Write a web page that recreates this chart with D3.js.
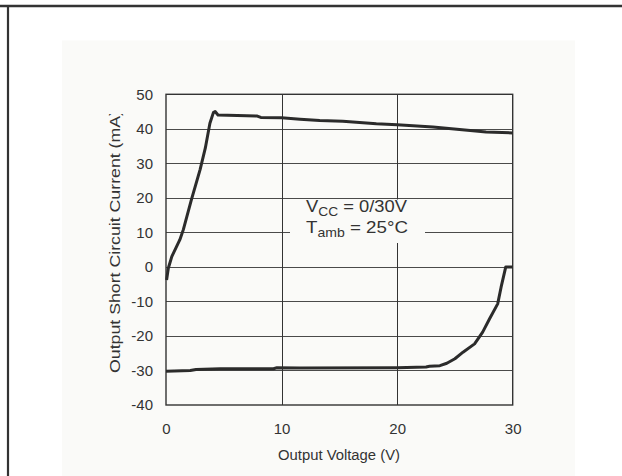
<!DOCTYPE html>
<html>
<head>
<meta charset="utf-8">
<script src="https://cdn.jsdelivr.net/npm/d3@7"></script>
<style>
  body { margin: 0; background: #fff; }
  text { font-family: "Liberation Sans", Arial, sans-serif; fill: #333; }
</style>
</head>
<body>
<div id="chart"></div>
<script>
// Chart size
const width = 622;
const height = 476;

// Data
const xTicks = [0, 10, 20, 30];
const yTicks = [-40, -30, -20, -10, 0, 10, 20, 30, 40, 50];

// sourcing curve (positive current)
const upperV = [0.05, 0.2, 0.5, 1.2, 1.5, 2.2, 2.95, 3.4, 3.8, 4.1, 4.25, 4.5, 7.0, 7.9, 8.2, 10, 11.6, 13.3, 15.3, 18.2, 20, 23.1, 25.4, 27.7, 30];
const upperI = [-3.8, -0.4, 3.0, 7.9, 10.8, 19.5, 28.2, 34.4, 41.6, 44.7, 45, 44.0, 43.8, 43.7, 43.3, 43.2, 42.8, 42.4, 42.2, 41.5, 41.2, 40.5, 39.8, 39.1, 38.8];

// sinking curve (negative current)
const lowerV = [0, 2.1, 2.6, 4.7, 9.3, 9.6, 11.6, 20, 22.5, 22.8, 23.7, 24.3, 25.0, 25.7, 26.7, 27.4, 28.0, 28.7, 29.0, 29.4, 30];
const lowerI = [-30.2, -30.0, -29.7, -29.5, -29.5, -29.2, -29.3, -29.2, -29.0, -28.8, -28.6, -27.9, -26.6, -24.7, -22.3, -18.9, -15.0, -10.7, -5.8, 0, 0];

const svg = d3.select("#chart")
    .append("svg")
        .attr("width", width)
        .attr("height", height);

// page frame lines and the grey panel
svg.append("rect")
    .attr("x", 62).attr("y", 40.5)
    .attr("width", 513).attr("height", height - 40.5)
    .attr("fill", "#fafaf8");
svg.append("line")
    .attr("x1", 0).attr("x2", width).attr("y1", 6).attr("y2", 6)
    .attr("stroke", "#333").attr("stroke-width", 2.4);
svg.append("line")
    .attr("x1", 8).attr("x2", 8).attr("y1", 6).attr("y2", height)
    .attr("stroke", "#333").attr("stroke-width", 2.2);

// Scales
const x = d3.scaleLinear().domain([0, 30]).range([166, 512.7]);
const y = d3.scaleLinear().domain([-40, 50]).range([405, 94.3]);

// Grid lines
svg.append("g")
    .selectAll("line")
    .data(yTicks.filter(d => d > -40 && d < 50))
    .join("line")
        .attr("x1", x(0)).attr("x2", x(30))
        .attr("y1", d => Math.round(y(d)) + 0.5)
        .attr("y2", d => Math.round(y(d)) + 0.5)
        .attr("stroke", "#4a4a4a").attr("stroke-width", 1);
svg.append("g")
    .selectAll("line")
    .data(xTicks.filter(d => d > 0 && d < 30))
    .join("line")
        .attr("x1", d => Math.round(x(d)) + 0.5)
        .attr("x2", d => Math.round(x(d)) + 0.5)
        .attr("y1", y(50)).attr("y2", y(-40))
        .attr("stroke", "#333").attr("stroke-width", 1);

// box behind the annotation hides the grid
svg.append("rect")
    .attr("x", 290).attr("y", 199.5)
    .attr("width", 135).attr("height", 43.5)
    .attr("fill", "#fafaf8");

// plot frame
svg.append("rect")
    .attr("x", x(0)).attr("y", y(50))
    .attr("width", x(30) - x(0)).attr("height", y(-40) - y(50))
    .attr("fill", "none")
    .attr("stroke", "#333").attr("stroke-width", 1.4);

// Axes (labels only), plain hyphen for negatives
const yAxis = svg.append("g")
    .attr("transform", `translate(${x(0)},0)`)
    .call(d3.axisLeft(y).tickValues(yTicks).tickFormat(d => String(d)).tickSize(0).tickPadding(13));
const xAxis = svg.append("g")
    .attr("transform", `translate(0,${y(-40)})`)
    .call(d3.axisBottom(x).tickValues(xTicks).tickFormat(d => String(d)).tickSize(0).tickPadding(18));
[yAxis, xAxis].forEach(a => {
    a.select(".domain").remove();
    a.selectAll("text")
        .style("font-family", '"Liberation Sans", Arial, sans-serif')
        .style("font-size", "15px")
        .attr("fill", "#333");
});

// Curves
const line = d3.line().x(d => x(d[0])).y(d => y(d[1]));
svg.append("path")
    .datum(d3.zip(upperV, upperI))
    .attr("d", line)
    .attr("fill", "none")
    .attr("stroke", "#2b2b2b").attr("stroke-width", 3)
    .attr("stroke-linejoin", "round");
svg.append("path")
    .datum(d3.zip(lowerV, lowerI))
    .attr("d", line)
    .attr("fill", "none")
    .attr("stroke", "#2b2b2b").attr("stroke-width", 3)
    .attr("stroke-linejoin", "round");

// Axis titles
svg.append("text")
    .attr("x", 278).attr("y", 459.5)
    .attr("textLength", 122).attr("lengthAdjust", "spacingAndGlyphs")
    .style("font-size", "14px")
    .text("Output Voltage (V)");

svg.append("clipPath").attr("id", "ylab-clip")
    .append("rect").attr("x", 90).attr("y", 114).attr("width", 40).attr("height", 300);
svg.append("g")
    .attr("clip-path", "url(#ylab-clip)")
    .append("text")
        .attr("transform", "translate(119.5,373) rotate(-90)")
        .attr("textLength", 263).attr("lengthAdjust", "spacingAndGlyphs")
        .style("font-size", "14.5px")
        .text("Output Short Circuit Current (mA)");

// Annotation
function note(main, sub, rest, baseY, targetW) {
    const t = svg.append("text")
        .attr("x", 0).attr("y", baseY)
        .style("font-size", "16px");
    t.append("tspan").text(main);
    t.append("tspan").attr("dy", 4).style("font-size", "12px").text(sub);
    t.append("tspan").attr("dy", -4).text(rest);
    const w = t.node().getComputedTextLength();
    t.attr("transform", `translate(306,0) scale(${targetW / w},1)`);
}
note("V", "CC", " = 0/30V", 212, 101);
note("T", "amb", " = 25°C", 233.5, 102);
</script>
</body>
</html>
